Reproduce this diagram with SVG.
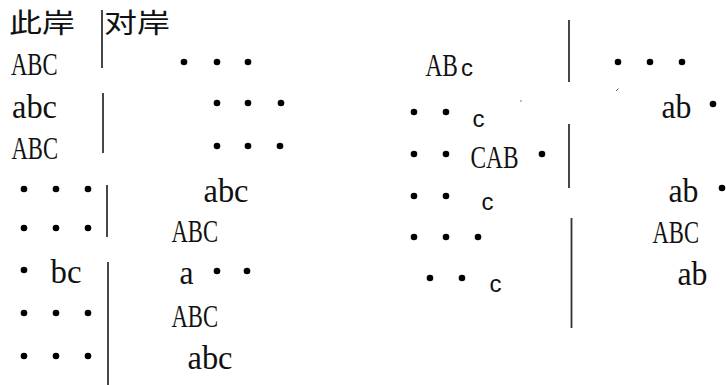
<svg xmlns="http://www.w3.org/2000/svg" width="726" height="385" viewBox="0 0 726 385">
  <style>
    .cjk { font-family: "Noto Sans CJK SC", sans-serif; font-size: 27px; fill: #111; }
    text.cap { font-size: 32px; fill: #111; }
    text.low { font-size: 33px; fill: #111; }
    .sc  { font-family: "Liberation Sans", sans-serif; font-size: 24px; fill: #111; }
    .bar { stroke: #333; stroke-width: 1.8; fill: none; }
    .dot { fill: #000; }
  </style>
  <defs>
    <circle id="d" r="3.3" class="dot"/>
  </defs>

  <rect width="726" height="385" fill="#fff"/>

  <!-- river bank dividers -->
  <g id="dividers">
    <line class="bar" x1="102" y1="10" x2="102" y2="68"/>
    <line class="bar" x1="103" y1="93" x2="103" y2="153"/>
    <line class="bar" x1="107" y1="185" x2="107" y2="237"/>
    <line class="bar" x1="108" y1="262" x2="108" y2="385"/>
    <line class="bar" x1="569" y1="20" x2="569" y2="82"/>
    <line class="bar" x1="569" y1="124" x2="569" y2="188"/>
    <line class="bar" x1="571.5" y1="218" x2="571.5" y2="328"/>
  </g>

  <!-- headings -->
  <g id="headings">
    <text class="cjk" x="9" y="33" textLength="66" lengthAdjust="spacingAndGlyphs">此岸</text>
    <text class="cjk" x="104" y="33" textLength="66" lengthAdjust="spacingAndGlyphs">对岸</text>
  </g>

  <!-- serif labels -->
  <g font-family="Liberation Serif, Times New Roman, serif">
    <!-- left column: this bank -->
    <g id="left-bank">
      <text class="cap" x="11" y="75" textLength="46.5" lengthAdjust="spacingAndGlyphs">ABC</text>
      <text class="low" x="12" y="118" textLength="45" lengthAdjust="spacingAndGlyphs">abc</text>
      <text class="cap" x="11.5" y="159" textLength="46.5" lengthAdjust="spacingAndGlyphs">ABC</text>
      <use href="#d" x="24" y="189"/><use href="#d" x="56" y="189"/><use href="#d" x="88" y="189"/>
      <use href="#d" x="24" y="228"/><use href="#d" x="56" y="228"/><use href="#d" x="88" y="228"/>
      <use href="#d" x="24" y="270"/>
      <text class="low" x="50.5" y="283" textLength="31" lengthAdjust="spacingAndGlyphs">bc</text>
      <use href="#d" x="24" y="313"/><use href="#d" x="56" y="313"/><use href="#d" x="88" y="313"/>
      <use href="#d" x="24" y="356"/><use href="#d" x="56" y="356"/><use href="#d" x="88" y="356"/>
    </g>

    <!-- left column: other bank -->
    <g id="right-bank">
      <use href="#d" x="184" y="62"/><use href="#d" x="217" y="62"/><use href="#d" x="248" y="62"/>
      <use href="#d" x="217" y="103"/><use href="#d" x="248" y="103"/><use href="#d" x="281" y="103"/>
      <use href="#d" x="217" y="146"/><use href="#d" x="248" y="146"/><use href="#d" x="280" y="146"/>
      <text class="low" x="203.5" y="202" textLength="45" lengthAdjust="spacingAndGlyphs">abc</text>
      <text class="cap" x="171.5" y="242" textLength="46.5" lengthAdjust="spacingAndGlyphs">ABC</text>
      <text class="low" x="179.5" y="284" textLength="14" lengthAdjust="spacingAndGlyphs">a</text>
      <use href="#d" x="217" y="271"/><use href="#d" x="247" y="271"/>
      <text class="cap" x="171.5" y="327" textLength="46.5" lengthAdjust="spacingAndGlyphs">ABC</text>
      <text class="low" x="187.5" y="369" textLength="45" lengthAdjust="spacingAndGlyphs">abc</text>
    </g>

    <!-- right column: this bank -->
    <g id="left-bank-2">
      <text class="cap" transform="translate(425.5 76) scale(0.73 1)">AB</text>
      <text class="sc" x="461" y="76">c</text>
      <use href="#d" x="414" y="112"/><use href="#d" x="446" y="112"/>
      <text class="sc" x="472.5" y="127">c</text>
      <use href="#d" x="414" y="154"/><use href="#d" x="446" y="154"/>
      <text class="cap" x="470.5" y="168" textLength="48" lengthAdjust="spacingAndGlyphs">CAB</text>
      <use href="#d" x="542" y="154"/>
      <use href="#d" x="414" y="196"/><use href="#d" x="446" y="196"/>
      <text class="sc" x="481.5" y="210">c</text>
      <use href="#d" x="414" y="237"/><use href="#d" x="446" y="237"/><use href="#d" x="478" y="237"/>
      <use href="#d" x="430" y="278"/><use href="#d" x="462" y="278"/>
      <text class="sc" x="489.5" y="292">c</text>
      <circle cx="521" cy="101" r="0.8" fill="#666"/>
    </g>

    <!-- right column: other bank -->
    <g id="right-bank-2">
      <use href="#d" x="618" y="62"/><use href="#d" x="650" y="62"/><use href="#d" x="682" y="62"/>
      <line x1="616" y1="91" x2="618.5" y2="88.5" stroke="#555" stroke-width="0.9"/>
      <text class="low" x="661.5" y="118" textLength="30" lengthAdjust="spacingAndGlyphs">ab</text>
      <use href="#d" x="713" y="104"/>
      <text class="low" x="668.5" y="202" textLength="30" lengthAdjust="spacingAndGlyphs">ab</text>
      <use href="#d" x="722" y="188"/>
      <text class="cap" x="652.5" y="243" textLength="46.5" lengthAdjust="spacingAndGlyphs">ABC</text>
      <text class="low" x="677.5" y="285" textLength="30" lengthAdjust="spacingAndGlyphs">ab</text>
    </g>
  </g>
</svg>
